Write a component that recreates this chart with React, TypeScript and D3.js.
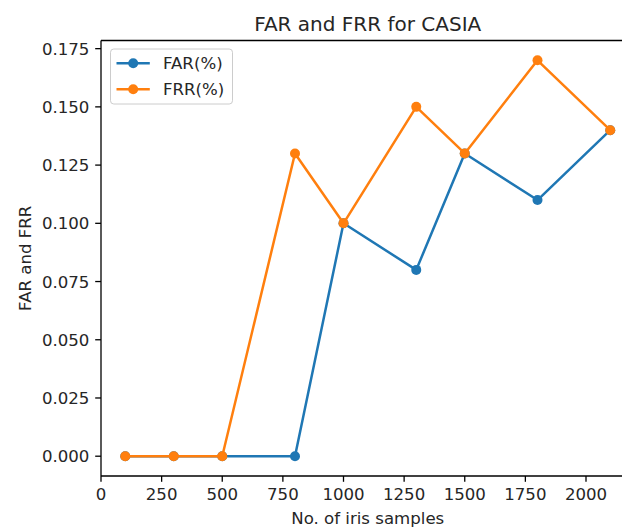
import React from "react";
import * as d3 from "d3";

const samples = [100, 300, 500, 800, 1000, 1300, 1500, 1800, 2100];
const farValues = [0, 0, 0, 0, 0.1, 0.08, 0.13, 0.11, 0.14];
const frrValues = [0, 0, 0, 0.13, 0.1, 0.15, 0.13, 0.17, 0.14];
const xTicks = [0, 250, 500, 750, 1000, 1250, 1500, 1750, 2000];
const yTicks = [0, 0.025, 0.05, 0.075, 0.1, 0.125, 0.15, 0.175];
const seriesNames = ["FAR(%)", "FRR(%)"];
const seriesColors = ["#1f77b4", "#ff7f0e"];

const W = 622;
const H = 527;
const left = 101;
const right = 634.5;
const top = 40.5;
const bottom = 476;
const FONT = "'DejaVu Sans', sans-serif";
const FS = 16.6;

export default function App() {
  const x = d3.scaleLinear().domain([0, 2200]).range([left, right]);
  const y = d3.scaleLinear().domain([-0.0085, 0.1785]).range([bottom, top]);
  const fmt = d3.format(".3f");
  const line = d3
    .line<[number, number]>()
    .x((d) => x(d[0]))
    .y((d) => y(d[1]));
  const series = [farValues, frrValues].map((vals) =>
    samples.map((s, i) => [s, vals[i]] as [number, number])
  );

  return (
    <svg
      width={W}
      height={H}
      style={{ position: "absolute", left: 0, top: 0, background: "#fff" }}
      fontFamily={FONT}
    >
      <rect x={0} y={0} width={W} height={H} fill="#fff" />
      {/* series */}
      {series.map((pts, si) => (
        <g key={si}>
          <path d={line(pts) || ""} fill="none" stroke={seriesColors[si]} strokeWidth={2.5} strokeLinejoin="round" />
          {pts.map((p, i) => (
            <circle key={i} cx={x(p[0])} cy={y(p[1])} r={5} fill={seriesColors[si]} />
          ))}
        </g>
      ))}
      {/* spines */}
      <line x1={left} x2={left} y1={top} y2={bottom} stroke="#000" strokeWidth={1.3} />
      <line x1={left} x2={W + 5} y1={bottom} y2={bottom} stroke="#000" strokeWidth={1.3} />
      <line x1={left} x2={W + 5} y1={top} y2={top} stroke="#000" strokeWidth={1.3} />
      {/* x ticks */}
      {xTicks.map((t) => (
        <g key={t}>
          <line x1={x(t)} x2={x(t)} y1={bottom} y2={bottom + 5.8} stroke="#000" strokeWidth={1.3} />
          <text x={x(t)} y={500} fontSize={FS} textAnchor="middle" fill="#262626">
            {t}
          </text>
        </g>
      ))}
      {/* y ticks */}
      {yTicks.map((t) => (
        <g key={t}>
          <line x1={left - 5.8} x2={left} y1={y(t)} y2={y(t)} stroke="#000" strokeWidth={1.3} />
          <text x={left - 11.6} y={y(t)} dy="0.36em" fontSize={FS} textAnchor="end" fill="#262626">
            {fmt(t)}
          </text>
        </g>
      ))}
      {/* labels */}
      <text x={(left + right) / 2} y={30.5} fontSize={20} textAnchor="middle" fill="#262626">
        FAR and FRR for CASIA
      </text>
      <text x={(left + right) / 2} y={524} fontSize={FS} textAnchor="middle" fill="#262626">
        No. of iris samples
      </text>
      <text
        transform={`translate(31,${(top + bottom) / 2}) rotate(-90)`}
        fontSize={FS}
        textAnchor="middle"
        fill="#262626"
      >
        FAR and FRR
      </text>
      {/* legend */}
      <rect x={110.5} y={49} width={122} height={55} rx={3.3} fill="#fff" fillOpacity={0.8} stroke="#cccccc" strokeWidth={1} />
      {seriesNames.map((name, i) => {
        const ly = 63.3 + i * 26;
        return (
          <g key={name}>
            <line x1={116.5} x2={149.8} y1={ly} y2={ly} stroke={seriesColors[i]} strokeWidth={2.5} />
            <circle cx={133.2} cy={ly} r={5} fill={seriesColors[i]} />
            <text x={163} y={ly} dy="0.36em" fontSize={FS} fill="#262626">
              {name}
            </text>
          </g>
        );
      })}
    </svg>
  );
}
